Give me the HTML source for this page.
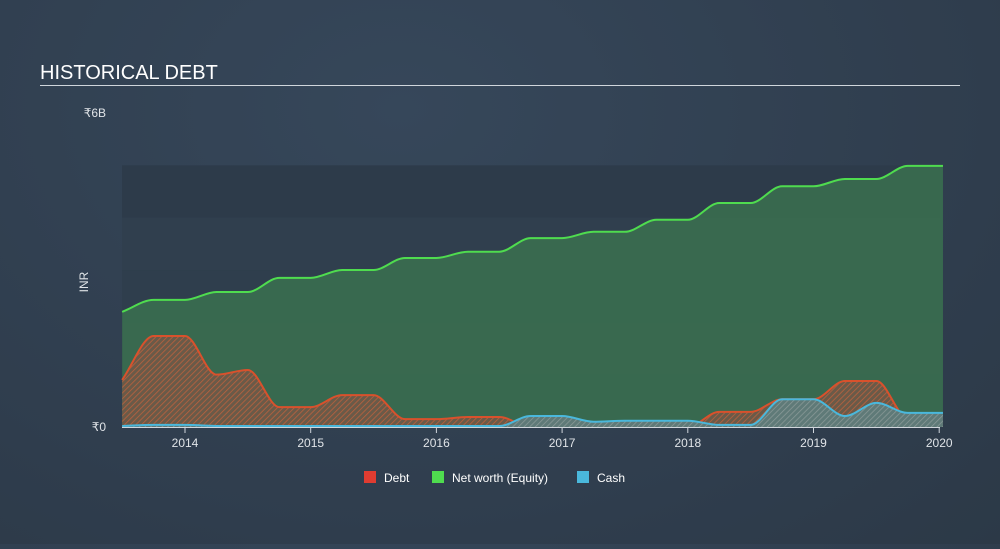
<!DOCTYPE html>
<html><head><meta charset="utf-8"><style>
body{margin:0;width:1000px;height:544px;overflow:hidden;background:radial-gradient(ellipse at 40% 20%,#36475a 0%,#2f3d4d 70%,#2c3947 100%);font-family:"Liberation Sans",sans-serif;}
</style></head><body>
<svg width="1000" height="544">
<defs>
<pattern id="hatchR" width="4" height="4" patternUnits="userSpaceOnUse" patternTransform="rotate(45)"><rect width="4" height="4" fill="#6a5a48"/><line x1="0" y1="0" x2="0" y2="4" stroke="#c0613d" stroke-width="1.5"/></pattern>
<pattern id="hatchB" width="4" height="4" patternUnits="userSpaceOnUse" patternTransform="rotate(45)"><rect width="4" height="4" fill="#5f7a78"/><line x1="0" y1="0" x2="0" y2="4" stroke="#8a9a98" stroke-width="1.5"/></pattern>
</defs>
<text x="40" y="79" fill="#fff" font-size="20">HISTORICAL DEBT</text>
<rect x="40" y="85" width="920" height="1" fill="#d0d6dc"/>
<g id="bands"></g>
<g id="plot"></g>
<g id="axes"></g>
<text x="88" y="282" fill="#e0e4e8" font-size="12" transform="rotate(-90 88 282)" text-anchor="middle">INR</text>
<g>
<g><rect x="364" y="471" width="12" height="12" fill="#e03c31"/><text x="384" y="482" fill="#fff" font-size="12">Debt</text></g>
<g><rect x="432" y="471" width="12" height="12" fill="#4fdc4f"/><text x="452" y="482" fill="#fff" font-size="12">Net worth (Equity)</text></g>
<g><rect x="577" y="471" width="12" height="12" fill="#4ab8dc"/><text x="597" y="482" fill="#fff" font-size="12">Cash</text></g>
</g>
</svg>
<script>
const dates=[2013.5,2013.75,2014,2014.25,2014.5,2014.75,2015,2015.25,2015.5,2015.75,2016,2016.25,2016.5,2016.75,2017,2017.25,2017.5,2017.75,2018,2018.25,2018.5,2018.75,2019,2019.25,2019.5,2019.75,2020,2020.03];
const equity=[2.2,2.43,2.43,2.58,2.58,2.85,2.85,3.0,3.0,3.23,3.23,3.35,3.35,3.61,3.61,3.73,3.73,3.96,3.96,4.28,4.28,4.6,4.6,4.74,4.74,4.99,4.99,4.99];
const debt=[0.9,1.74,1.74,1.0,1.09,0.38,0.38,0.61,0.61,0.15,0.15,0.19,0.19,0,0,0.06,0.06,0,0,0.29,0.29,0.53,0.53,0.88,0.88,0.17,0.17,0.17];
const cash=[0.02,0.04,0.04,0.02,0.02,0.02,0.02,0.02,0.02,0.02,0.02,0.02,0.02,0.21,0.21,0.1,0.12,0.12,0.12,0.04,0.04,0.53,0.53,0.21,0.46,0.27,0.27,0.27];
const xTicks=[2014,2015,2016,2017,2018,2019,2020];
const yTicks=[0,6];
const yTickLabels=["₹0","₹6B"];
const NS="http://www.w3.org/2000/svg";
function X(t){return 185+(t-2014)*125.7;}
function Y(v){return 427-v*52.33;}
function el(tag,attrs,parent){const e=document.createElementNS(NS,tag);for(const k in attrs)e.setAttribute(k,attrs[k]);parent.appendChild(e);return e;}
function monotone(xs,ys){
  const n=xs.length,d=[],m=[];
  for(let i=0;i<n-1;i++)d.push((ys[i+1]-ys[i])/(xs[i+1]-xs[i]));
  for(let i=0;i<n;i++){
    if(i==0)m.push(d[0]);else if(i==n-1)m.push(d[n-2]);
    else m.push(d[i-1]*d[i]<=0?0:(2*d[i-1]*d[i])/(d[i-1]+d[i])*1);
  }
  let p="M"+xs[0]+","+ys[0];
  for(let i=0;i<n-1;i++){const h=(xs[i+1]-xs[i])/3;
    p+=" C"+(xs[i]+h)+","+(ys[i]+m[i]*h)+" "+(xs[i+1]-h)+","+(ys[i+1]-m[i+1]*h)+" "+xs[i+1]+","+ys[i+1];}
  return p;
}
const bands=document.getElementById('bands');
const bc=["#2d3b4a","#303f4e","#2f3e4d","#303f4e","#2f3e4d"];
for(let i=0;i<5;i++){
  const b=el('rect',{x:122,y:Y(5-i),width:818,height:52.33,fill:bc[i]},bands);
  
  
}
const plot=document.getElementById('plot');
const xs=dates.map(X);
function series(vals,fill,stroke,name){
  const ys=vals.map(Y);const line=monotone(xs,ys);
  const a=el('path',{d:line+" L"+xs[xs.length-1]+","+Y(0)+" L"+xs[0]+","+Y(0)+" Z",fill:fill},plot);
  
  
  const l=el('path',{d:line,fill:'none',stroke:stroke,'stroke-width':2},plot);
  
  
}
series(equity,"rgba(60,120,80,0.75)","#4fdc4f","equity");
series(debt,"url(#hatchR)","#d9512c","debt");
series(cash,"url(#hatchB)","#4ab8dc","cash");
const axes=document.getElementById('axes');
const ax=el('line',{x1:122,y1:427.5,x2:940,y2:427.5,stroke:'#d0d6dc','stroke-width':1},axes);


xTicks.forEach(t=>{
  const tk=el('line',{x1:X(t),y1:428,x2:X(t),y2:433,stroke:'#d0d6dc'},axes);
  
  
  const tx=el('text',{x:X(t),y:447,fill:'#e0e4e8','font-size':12,'text-anchor':'middle'},axes);
  tx.textContent=t;
  
  
});
yTicks.forEach((v,i)=>{
  const tx=el('text',{x:106,y:Y(v)+4,fill:'#e0e4e8','font-size':12,'text-anchor':'end'},axes);
  tx.textContent=yTickLabels[i];
  
  
});
</script>
</body></html>
